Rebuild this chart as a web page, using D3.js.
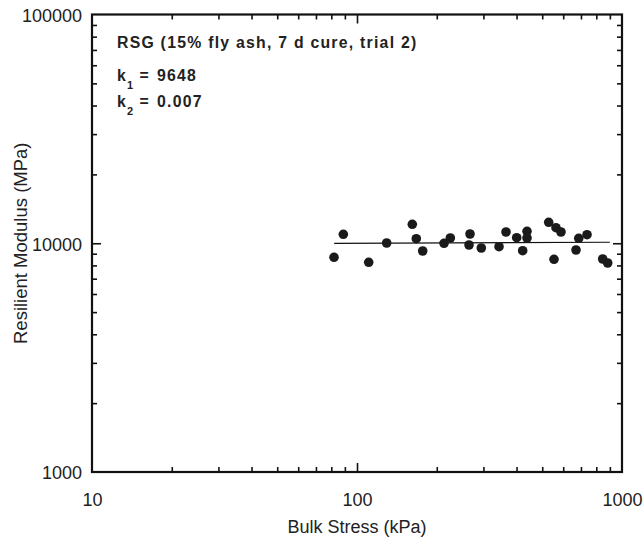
<!DOCTYPE html>
<html><head><meta charset="utf-8">
<script src="https://cdn.jsdelivr.net/npm/d3@7"></script>
<style>
body{margin:0;background:#fff;}
svg{display:block;font-family:"Liberation Sans",Arial,Helvetica,sans-serif;}
</style></head>
<body><svg id="chart" width="643" height="537"></svg>
<script>
const bulkStress = [81.9, 88.8, 110.7, 129.4, 161.7, 167.4, 177.0, 213.0, 225.0, 264.7, 267.0, 294.5, 343.5, 365.0, 400.5, 421.9, 438.1, 438.1, 528.9, 553.9, 563.4, 588.5, 670.7, 686.6, 737.9, 845.6, 883.1];
const modulus    = [8683, 10943, 8254, 10025, 12100, 10469, 9250, 9995, 10544, 9824, 10975, 9533, 9658, 11200, 10576, 9278, 11277, 10544, 12346, 8507, 11695, 11200, 9343, 10510, 10899, 8533, 8197];
const fitX = [82, 900];
const fitY = [9990, 10100];
const xMajor = [10, 100, 1000];
const yMajor = [1000, 10000, 100000];
const annTitle = "RSG (15% fly ash, 7 d cure, trial 2)";
const k1 = "9648";
const k2 = "0.007";
const xLabel = "Bulk Stress (kPa)";
const yLabel = "Resilient Modulus (MPa)";

const m = {left: 92, top: 14.5, right: 643 - 622, bottom: 537 - 472};
const W = 643 - m.left - m.right, H = 537 - m.top - m.bottom;
const svg = d3.select("#chart");
const g = svg.append("g").attr("transform", `translate(${m.left},${m.top})`);

const x = d3.scaleLog().domain([10, 1000]).range([0, W]);
const y = d3.scaleLog().domain([1000, 100000]).range([H, 0]);

function minors(lo, hi) {
  const out = [];
  for (let d = lo; d < hi; d *= 10) for (let k = 2; k <= 9; k++) out.push(d * k);
  return out;
}
const xMinor = minors(10, 1000), yMinor = minors(1000, 100000);
const midX = [100], midY = [10000];

function styleAxis(sel) {
  sel.select(".domain").remove();
  sel.selectAll("line").attr("stroke", "#111").attr("stroke-width", 1.6);
  sel.selectAll("text").remove();
}
// minor + major ticks, inward on all four sides
g.append("g").attr("transform", `translate(0,${H})`).call(d3.axisTop(x).tickValues(xMinor).tickSize(5)).call(styleAxis);
g.append("g").attr("transform", `translate(0,${H})`).call(d3.axisTop(x).tickValues(midX).tickSize(9)).call(styleAxis);
g.append("g").call(d3.axisBottom(x).tickValues(xMinor).tickSize(5)).call(styleAxis);
g.append("g").call(d3.axisBottom(x).tickValues(midX).tickSize(9)).call(styleAxis);
g.append("g").call(d3.axisRight(y).tickValues(yMinor).tickSize(5)).call(styleAxis);
g.append("g").call(d3.axisRight(y).tickValues(midY).tickSize(9)).call(styleAxis);
g.append("g").attr("transform", `translate(${W},0)`).call(d3.axisLeft(y).tickValues(yMinor).tickSize(5)).call(styleAxis);
g.append("g").attr("transform", `translate(${W},0)`).call(d3.axisLeft(y).tickValues(midY).tickSize(9)).call(styleAxis);

// tick labels
const xl = g.append("g").attr("transform", `translate(0,${H})`)
  .call(d3.axisBottom(x).tickValues(xMajor).tickSize(0).tickPadding(21).tickFormat(d3.format("d")));
xl.select(".domain").remove();
xl.selectAll("text").attr("font-size", 18).attr("fill", "#222").attr("font-family", null);
const yl = g.append("g")
  .call(d3.axisLeft(y).tickValues(yMajor).tickSize(0).tickPadding(10).tickFormat(d3.format("d")));
yl.select(".domain").remove();
yl.selectAll("text").attr("font-size", 18).attr("fill", "#222").attr("font-family", null).attr("dy", "0.38em");

// frame
g.append("rect").attr("width", W).attr("height", H).attr("fill", "none")
  .attr("stroke", "#111").attr("stroke-width", 2.2);

// fit line
g.append("line").attr("x1", x(fitX[0])).attr("x2", x(fitX[1]))
  .attr("y1", y(fitY[0])).attr("y2", y(fitY[1]))
  .attr("stroke", "#111").attr("stroke-width", 1.1);

// points
g.selectAll("circle.pt").data(bulkStress.map((v, i) => [v, modulus[i]])).join("circle")
  .attr("class", "pt").attr("cx", d => x(d[0])).attr("cy", d => y(d[1]))
  .attr("r", 4.8).attr("fill", "#1a1a1a");

// annotations
const ann = svg.append("g").attr("font-weight", "bold").attr("fill", "#222")
  .attr("font-size", 15.8).attr("letter-spacing", 1.25);
ann.append("text").attr("x", 117).attr("y", 48).text(annTitle);
[[k1, "1", 81], [k2, "2", 107]].forEach(([val, sub, yy]) => {
  const t = ann.append("text").attr("y", yy);
  t.append("tspan").attr("x", 117).text("k");
  t.append("tspan").attr("x", 127).attr("font-size", 11).attr("dy", 8).text(sub);
  t.append("tspan").attr("x", 139.5).attr("dy", -8).text("=");
  t.append("tspan").attr("x", 157).text(val);
});

// axis titles
svg.append("text").attr("x", m.left + W / 2).attr("y", 533).attr("text-anchor", "middle")
  .attr("font-size", 18).attr("fill", "#222").text(xLabel);
svg.append("text").attr("transform", `translate(26.5,${m.top + H / 2}) rotate(-90)`)
  .attr("text-anchor", "middle").attr("font-size", 18.5).attr("fill", "#222").text(yLabel);
</script></body></html>
